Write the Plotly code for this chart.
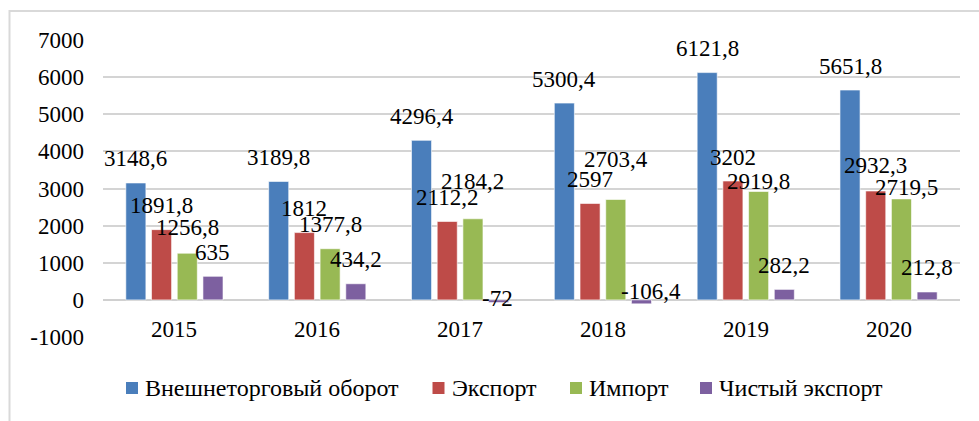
import plotly.graph_objects as go

# Foreign trade indicators by year
years = ["2015", "2016", "2017", "2018", "2019", "2020"]
turnover = [3148.6, 3189.8, 4296.4, 5300.4, 6121.8, 5651.8]
exports = [1891.8, 1812, 2112.2, 2597, 3202, 2932.3]
imports = [1256.8, 1377.8, 2184.2, 2703.4, 2919.8, 2719.5]
net_exports = [635, 434.2, -72, -106.4, 282.2, 212.8]

series_names = ["Внешнеторговый оборот", "Экспорт", "Импорт", "Чистый экспорт"]
y_ticks = [-1000, 0, 1000, 2000, 3000, 4000, 5000, 6000, 7000]

colors = ["#4A7EBB", "#BE4B48", "#98B954", "#7D60A0"]
FONT = "Times New Roman, Liberation Serif, serif"

W, H = 979, 421
M_L, M_R, M_T, M_B = 103, 19, 40, 84
PLOT_W = W - M_L - M_R
PLOT_H = H - M_T - M_B

BARGAP = 0.28
BARGROUPGAP = 0.22
DEFAULT_SHIFT = 24  # label centre above the bar end, px

# Hand-placed label nudges: (series index, year index) -> (xshift, yshift)
label_nudge = {
    (2, 0): (0, 26),
    (2, 2): (0, 37),
    (2, 3): (0, 40),
    (2, 4): (0, 10),
    (2, 5): (5, 11),
    (1, 5): (0, 26),
    (3, 2): (-1, 4),
    (3, 3): (10, 12),
}

# Legend row: text start of each entry (px from the left edge), row centre (px from top)
legend_text_x = [143, 449.5, 587, 717]
legend_row_y = 388
legend_box = 12


def px_to_paper_x(px):
    return (px - M_L) / PLOT_W


def px_to_paper_y(py):
    return (H - M_B - py) / PLOT_H


def fmt(v):
    if float(v).is_integer():
        return str(int(v))
    return f"{v:.1f}".replace(".", ",")


all_series = [turnover, exports, imports, net_exports]

fig = go.Figure()
for name, vals, col in zip(series_names, all_series, colors):
    fig.add_trace(go.Bar(
        x=years, y=vals, name=name,
        marker=dict(color=col, line=dict(color="rgba(255,255,255,0.6)", width=1)),
    ))

annotations = []
n = len(all_series)
slot = (1 - BARGAP) / n
for s, vals in enumerate(all_series):
    for i, v in enumerate(vals):
        xs, ys = label_nudge.get((s, i), (0, DEFAULT_SHIFT))
        annotations.append(dict(
            x=i + (s - (n - 1) / 2) * slot, y=v, xref="x", yref="y",
            text=fmt(v), showarrow=False, xanchor="center", yanchor="middle",
            xshift=xs, yshift=ys,
            font=dict(family=FONT, size=23, color="#000000"),
        ))

# Category labels sit just under the zero line
for i, yr in enumerate(years):
    annotations.append(dict(
        x=i, y=0, xref="x", yref="y", text=yr, showarrow=False,
        xanchor="center", yanchor="middle", yshift=-30,
        font=dict(family=FONT, size=23, color="#000000"),
    ))

# Chart frame
shapes = [dict(
    type="rect", xref="paper", yref="paper",
    x0=px_to_paper_x(9.5), x1=px_to_paper_x(W + 20),
    y0=px_to_paper_y(H + 20), y1=px_to_paper_y(11),
    line=dict(color="#d9d9d9", width=2), layer="below",
)]

# Legend row: colour swatch + series name
for name, col, tx in zip(series_names, colors, legend_text_x):
    sx1 = tx - 5
    sx0 = sx1 - legend_box
    shapes.append(dict(
        type="rect", xref="paper", yref="paper",
        x0=px_to_paper_x(sx0), x1=px_to_paper_x(sx1),
        y0=px_to_paper_y(legend_row_y + legend_box / 2),
        y1=px_to_paper_y(legend_row_y - legend_box / 2),
        fillcolor=col, line=dict(width=0),
    ))
    annotations.append(dict(
        x=px_to_paper_x(tx), y=px_to_paper_y(legend_row_y),
        xref="paper", yref="paper", text=name, showarrow=False,
        xanchor="left", yanchor="middle",
        font=dict(family=FONT, size=24, color="#000000"),
    ))

fig.update_layout(
    width=W, height=H,
    margin=dict(l=M_L, r=M_R, t=M_T, b=M_B),
    paper_bgcolor="white", plot_bgcolor="white",
    barmode="group", bargap=BARGAP, bargroupgap=BARGROUPGAP,
    font=dict(family=FONT, size=23, color="#000000"),
    showlegend=False,
    annotations=annotations,
    shapes=shapes,
)

fig.update_xaxes(
    type="category", showticklabels=False, showgrid=False,
    showline=False, zeroline=False, range=[-0.5, len(years) - 0.5],
)
fig.update_yaxes(
    range=[-1000, 7000], tickvals=y_ticks, ticktext=[str(t) for t in y_ticks],
    showgrid=True, gridcolor="#d4d4d4", gridwidth=1.5,
    zeroline=True, zerolinecolor="#d0d0d0", zerolinewidth=2,
    showline=False, ticks="", ticklabelstandoff=18,
    tickfont=dict(family=FONT, size=23, color="#000000"),
)

fig.write_html("out.html")
